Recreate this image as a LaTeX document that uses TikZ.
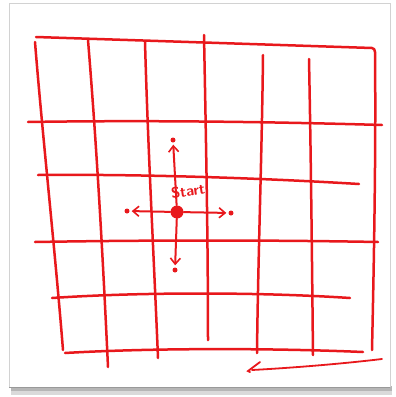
\documentclass[tikz,border=0pt]{standalone}
\usetikzlibrary{arrows.meta,shadows}
\definecolor{pen}{RGB}{232,24,28}
\definecolor{shade}{RGB}{150,150,150}
\begin{document}
\begin{tikzpicture}[x=1pt,y=-1pt,
  pen/.style={draw=pen,line width=2.5pt,line cap=round,line join=round},
  thin pen/.style={draw=pen,line width=1.8pt,line cap=round},
  dot/.style={circle,fill=pen,inner sep=0pt,minimum size=5pt},
  bigdot/.style={circle,fill=pen,inner sep=0pt,minimum size=13pt},
  tip/.style={-{Straight Barb[length=6pt,width=10pt,line width=1.6pt]},shorten >=2pt}]
\useasboundingbox (0,0) rectangle (396,397);
% paper with shadow
\fill[shade!70] (11,386) rectangle (392,391);
\fill[shade!35] (11,391) rectangle (392,395);
\fill[white] (9,3) rectangle (390,387);
\draw[gray!35,line width=0.6pt] (9,387) -- (9,3) -- (390,3) -- (390,387);
\draw[gray!80,line width=0.8pt] (9,387) -- (390,387);
% top line and right border
\draw[pen] (36,37) -- (372,48) to[out=0,in=90] (375,52) .. controls (376,150) and (374,260) .. (372,350);
% vertical lines
\draw[pen] (35,42) .. controls (42,130) and (55,250) .. (63,350);
\draw[pen] (88,40) .. controls (97,150) and (103,260) .. (108,367);
\draw[pen] (145,42) .. controls (148,150) and (154,260) .. (158,358);
\draw[pen] (204,35) .. controls (206,140) and (208,240) .. (208,340);
\draw[pen] (263,55) .. controls (262,150) and (258,260) .. (257,353);
\draw[pen] (309,59) .. controls (311,160) and (312,260) .. (313,355);
% horizontal lines
\draw[pen] (28,122) .. controls (150,120) and (280,122) .. (382,125);
\draw[pen] (38,175) .. controls (140,174) and (260,178) .. (359,184);
\draw[pen] (35,242) .. controls (150,240) and (270,240) .. (378,242);
\draw[pen] (52,298) .. controls (140,292) and (260,292) .. (350,298);
\draw[pen] (65,353) .. controls (150,348) and (270,348) .. (363,352);
% bottom arrow
\draw[thin pen] (382,359) .. controls (340,364) and (290,368) .. (252,370);
\draw[thin pen] (260,362) -- (248,371) -- (250,372);
% center with arrows
\node[bigdot] (c) at (177,212) {};
\node[dot] (up) at (173,140) {};
\node[dot] (dn) at (175,270) {};
\node[dot] (lf) at (127,211) {};
\node[dot] (rt) at (231,213) {};
\draw[pen,line width=2pt,tip] (c) -- (up);
\draw[pen,line width=2pt,tip] (c) -- (dn);
\draw[pen,line width=2pt,tip] (c) -- (lf);
\draw[pen,line width=2pt,tip] (c) -- (rt);
\node[text=pen,font=\sffamily\bfseries,rotate=8,scale=1.5] (lbl) at (188,191) {Start};
\end{tikzpicture}
\end{document}
